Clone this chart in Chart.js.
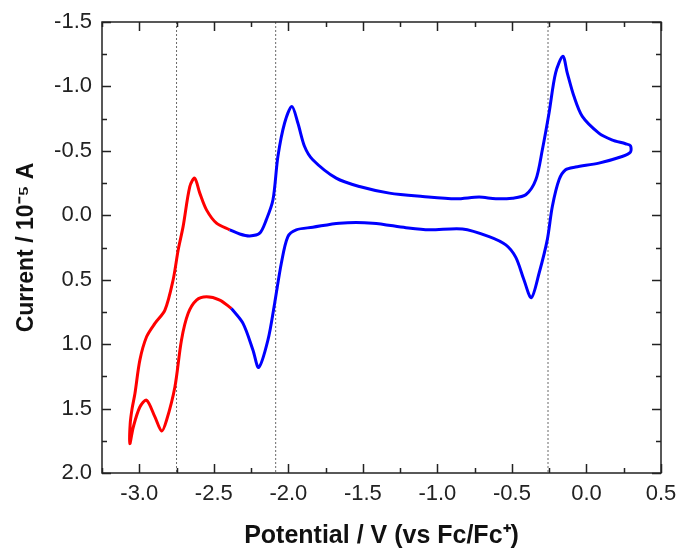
<!DOCTYPE html>
<html>
<head>
<meta charset="utf-8">
<script src="https://cdn.jsdelivr.net/npm/chart.js@4"></script>
<style>
html,body{margin:0;padding:0;background:#fff;}
#wrap{width:678px;height:548px;}
</style>
</head>
<body>
<div id="wrap"><canvas id="c" width="678" height="548"></canvas></div>
<script>
// Blue segment: reverse scan (upper branch) from -2.39 V to the switching point, then forward scan (lower branch) back to -2.38 V
const bluePotential = [-2.393,-2.326,-2.259,-2.192,-2.148,-2.103,-2.070,-2.025,-1.976,-1.936,-1.891,-1.836,-1.679,-1.523,-1.322,-1.099,-0.876,-0.720,-0.608,-0.497,-0.407,-0.340,-0.296,-0.251,-0.207,-0.158,-0.129,-0.084,-0.028,0.083,0.170,0.262,0.295,0.295,0.239,0.083,-0.073,-0.140,-0.184,-0.229,-0.263,-0.318,-0.370,-0.419,-0.474,-0.541,-0.653,-0.832,-1.055,-1.211,-1.434,-1.657,-1.836,-1.947,-2.003,-2.047,-2.092,-2.137,-2.199,-2.237,-2.304,-2.382];
const blueCurrent = [0.113,0.145,0.160,0.139,0.036,-0.120,-0.456,-0.716,-0.845,-0.716,-0.534,-0.431,-0.288,-0.223,-0.172,-0.146,-0.128,-0.141,-0.128,-0.133,-0.159,-0.275,-0.509,-0.794,-1.105,-1.234,-1.105,-0.923,-0.767,-0.638,-0.586,-0.555,-0.540,-0.490,-0.456,-0.405,-0.374,-0.353,-0.275,-0.068,0.191,0.450,0.640,0.502,0.327,0.230,0.165,0.106,0.113,0.096,0.061,0.061,0.093,0.113,0.165,0.372,0.684,0.969,1.181,1.047,0.839,0.723];
// Red segment: forward scan from -2.38 V to -3.06 V and back up to -2.39 V
const redPotential = [-2.382,-2.460,-2.549,-2.616,-2.672,-2.717,-2.761,-2.817,-2.850,-2.895,-2.951,-2.996,-3.040,-3.063,-3.061,-3.048,-3.029,-2.996,-2.951,-2.895,-2.828,-2.773,-2.739,-2.706,-2.661,-2.628,-2.594,-2.549,-2.482,-2.393];
const redCurrent = [0.723,0.658,0.632,0.658,0.761,0.969,1.332,1.591,1.674,1.565,1.435,1.488,1.643,1.772,1.620,1.500,1.383,1.124,0.943,0.839,0.736,0.502,0.269,0.088,-0.223,-0.288,-0.172,-0.042,0.061,0.113];
// Reference potentials (dotted vertical lines)
const markerPotentials = [-2.75, -2.085, -0.258];
const xTickValues = [-3.0,-2.5,-2.0,-1.5,-1.0,-0.5,0.0,0.5];
const yTickValues = [-1.5,-1.0,-0.5,0.0,0.5,1.0,1.5,2.0];
const xRange = [-3.25, 0.5];
const yRange = [-1.5, 2.0];

const toPts = (xs, ys) => xs.map((x, i) => ({x: x, y: ys[i]}));
const fmt = v => { const a = Math.abs(v) < 1e-9 ? 0 : v; return a.toFixed(1); };

const datasets = [];
markerPotentials.forEach(p => {
  datasets.push({data: [{x: p, y: yRange[0]}, {x: p, y: yRange[1]}], showLine: true, borderColor: '#6a6a6a', borderWidth: 1, borderDash: [2, 2], pointRadius: 0, tension: 0, order: 3});
});
datasets.push({data: toPts(bluePotential, blueCurrent), showLine: true, borderColor: '#0000ff', borderWidth: 3, pointRadius: 0, tension: 0.3, order: 1});
datasets.push({data: toPts(redPotential, redCurrent), showLine: true, borderColor: '#ff0000', borderWidth: 3, pointRadius: 0, tension: 0.3, order: 1});

const framePlugin = {
  id: 'frame',
  afterDatasetsDraw(chart) {
    const {ctx, chartArea: a, scales: {x, y}} = chart;
    ctx.save();
    ctx.strokeStyle = '#222';
    ctx.lineWidth = 1.5;
    ctx.strokeRect(a.left, a.top, a.right - a.left, a.bottom - a.top);
    const drawX = (v, len) => {
      const px = Math.round(x.getPixelForValue(v)) + 0.5;
      ctx.beginPath();
      ctx.moveTo(px, a.bottom); ctx.lineTo(px, a.bottom - len);
      ctx.moveTo(px, a.top); ctx.lineTo(px, a.top + len);
      ctx.stroke();
    };
    const drawY = (v, len) => {
      const py = Math.round(y.getPixelForValue(v)) + 0.5;
      ctx.beginPath();
      ctx.moveTo(a.left, py); ctx.lineTo(a.left + len, py);
      ctx.moveTo(a.right, py); ctx.lineTo(a.right - len, py);
      ctx.stroke();
    };
    for (let v = xRange[0]; v <= xRange[1] + 1e-9; v += 0.25) {
      const major = xTickValues.some(t => Math.abs(t - v) < 1e-6);
      drawX(v, major ? 9 : 5);
    }
    for (let v = yRange[0]; v <= yRange[1] + 1e-9; v += 0.25) {
      const major = yTickValues.some(t => Math.abs(t - v) < 1e-6);
      drawY(v, major ? 9 : 5);
    }
    ctx.restore();
  }
};

new Chart(document.getElementById('c'), {
  type: 'scatter',
  data: {datasets: datasets},
  options: {
    responsive: false,
    animation: false,
    layout: {padding: {left: 0, right: 17, top: 22, bottom: 0}},
    plugins: {legend: {display: false}, tooltip: {enabled: false}},
    scales: {
      x: {
        type: 'linear', min: xRange[0], max: xRange[1],
        afterBuildTicks: s => { s.ticks = xTickValues.map(v => ({value: v})); },
        afterFit: s => { s.height = 75; s.paddingLeft = 0; s.paddingRight = 0; },
        grid: {display: false, drawTicks: false},
        border: {display: false},
        ticks: {callback: v => fmt(v), color: '#222', font: {family: 'Liberation Sans', size: 22}, padding: 8, maxRotation: 0, autoSkip: false},
        title: {display: true, text: 'Potential / V (vs Fc/Fc\u207A)', color: '#111', font: {family: 'Liberation Sans', size: 25, weight: 'bold'}, padding: {top: 0, bottom: -3}}
      },
      y: {
        type: 'linear', min: yRange[0], max: yRange[1], reverse: true,
        afterBuildTicks: s => { s.ticks = yTickValues.map(v => ({value: v})); },
        afterFit: s => { s.width = 102; s.paddingTop = 0; s.paddingBottom = 0; },
        grid: {display: false, drawTicks: false},
        border: {display: false},
        ticks: {callback: v => fmt(v), color: '#222', font: {family: 'Liberation Sans', size: 22}, padding: 10, autoSkip: false},
        title: {display: true, text: 'Current / 10\u207B\u2075 A', color: '#111', font: {family: 'Liberation Sans', size: 23, weight: 'bold'}, padding: {top: 13, bottom: 0}}
      }
    }
  },
  plugins: [framePlugin]
});
</script>
</body>
</html>
